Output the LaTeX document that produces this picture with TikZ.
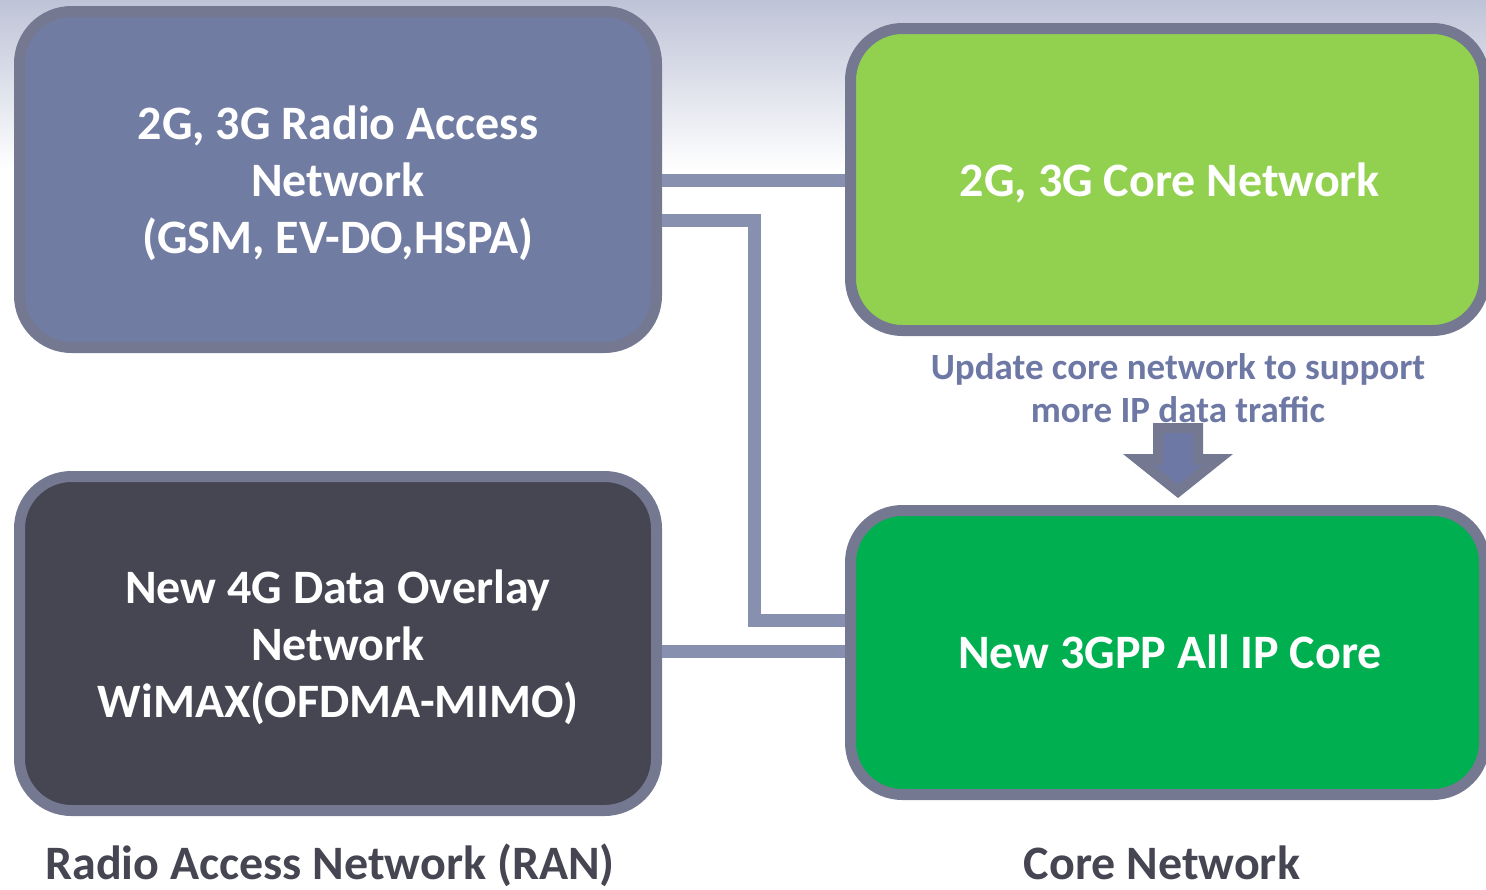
\documentclass[tikz,border=0pt]{standalone}
\usepackage{fontspec}
\setmainfont{Carlito}
\definecolor{bgtop}{HTML}{BEC3D7}
\definecolor{bordergray}{HTML}{747891}
\definecolor{ranblue}{HTML}{717CA3}
\definecolor{corelight}{HTML}{92D050}
\definecolor{overlaydark}{HTML}{464652}
\definecolor{coregreen}{HTML}{00B050}
\definecolor{connblue}{HTML}{8890B0}
\definecolor{notecol}{HTML}{6E78A5}
\definecolor{labelcol}{HTML}{464652}
\tikzset{
  netbox/.style={draw=bordergray, line width=11pt, rounded corners=52pt,
    text=white, align=center, inner sep=0pt,
    font=\bfseries\fontsize{48}{57}\selectfont},
  conn/.style={draw=connblue, line width=13pt, line cap=butt, line join=miter},
  note/.style={text=notecol, align=center, inner sep=0pt,
    font=\bfseries\fontsize{37}{43}\selectfont},
  caption/.style={text=labelcol, inner sep=0pt, anchor=base,
    font=\bfseries\fontsize{48}{52}\selectfont}
}
\begin{document}
\begin{tikzpicture}[x=1pt,y=-1pt]
\useasboundingbox (0,0) rectangle (1486,889);
\clip (0,0) rectangle (1486,889);
\fill[white] (0,0) rectangle (1486,889);
\shade[top color=bgtop, bottom color=white] (0,0) rectangle (1486,170);
% boxes
\node[netbox, fill=ranblue, minimum width=637pt, minimum height=336pt] (ran) at (338,179.5)
  {\raisebox{-10pt}[0pt][0pt]{\parbox{600pt}{\centering 2G, 3G Radio Access\\Network\\(GSM, EV-DO,HSPA)}}};
\node[netbox, fill=corelight, minimum width=634pt, minimum height=302pt] (core) at (1167.5,179.5)
  {\raisebox{-17pt}[0pt][0pt]{\hspace*{5pt}2G, 3G Core Network}};
\node[netbox, fill=overlaydark, minimum width=637pt, minimum height=334pt] (wimax) at (338,643.5)
  {\raisebox{-10pt}[0pt][0pt]{\parbox{600pt}{\centering New 4G Data Overlay\\Network\\WiMAX(OFDMA-MIMO)}}};
\node[netbox, fill=coregreen, minimum width=634pt, minimum height=284pt] (ipcore) at (1167.5,652.5)
  {\raisebox{-16pt}[0pt][0pt]{\hspace*{5pt}New 3GPP All IP Core}};
% connectors
\coordinate (yA) at (0,180);
\coordinate (yB) at (0,220);
\coordinate (bend1) at (754,220);
\coordinate (bend2) at (754,620);
\coordinate (yC) at (0,620);
\coordinate (yD) at (0,651);
\draw[conn] (ran.east |- yA) -- (core.west |- yA);
\draw[conn] (ran.east |- yB) -- (bend1) -- (bend2) -- (ipcore.west |- yC);
\draw[conn] (wimax.east |- yD) -- (ipcore.west |- yD);
% note and arrow
\node[note] (upd) at (1178,388) {Update core network to support\\more IP data traffic};
\fill[bordergray] (1153,423) -- (1203,423) -- (1203,454) -- (1233,454) -- (1178,498)
  -- (1123,454) -- (1153,454) -- cycle;
\fill[notecol] (1163,433) -- (1193,433) -- (1193,465) -- (1202,465) -- (1178,485)
  -- (1154,465) -- (1163,465) -- cycle;
% captions
\node[caption] (ranlab) at (330,879) {Radio Access Network (RAN)};
\node[caption] (corelab) at (1162,879) {Core Network};
\end{tikzpicture}
\end{document}
